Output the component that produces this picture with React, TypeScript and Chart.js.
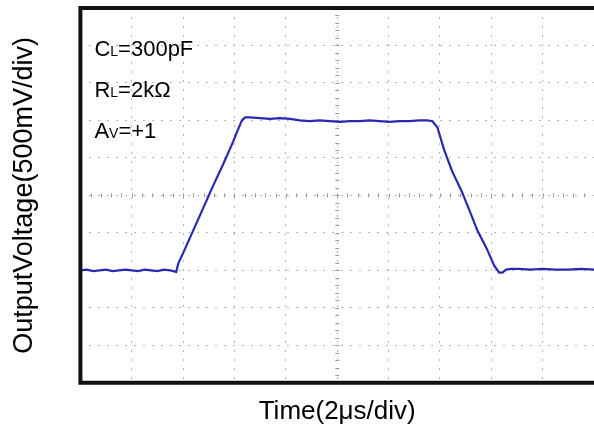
import { useEffect, useRef } from "react";
import { Chart, registerables } from "chart.js";

Chart.register(...registerables);

// Time in microseconds (2 µs/div, 10 divisions)
const timeUs = [
  0, 0.25, 0.5, 0.75, 1.0, 1.25, 1.5, 1.75, 2.0, 2.25, 2.5, 2.75, 3.0, 3.25, 3.5, 3.73,
  3.81, 4.0, 4.39, 4.78, 5.17, 5.55, 5.94, 6.14, 6.29, 6.41,
  6.6, 6.99, 7.38, 7.77, 8.16, 8.54, 8.93, 9.32, 9.71, 10.1, 10.49, 10.87, 11.26, 11.65, 12.04, 12.43, 12.82, 13.2, 13.51, 13.71,
  13.9, 14.17, 14.49, 14.83, 15.15, 15.46, 15.81, 16.12, 16.31, 16.43, 16.58, 16.78, 17.09,
  17.5, 18.0, 18.5, 19.0, 19.5, 20.0,
];

// Output voltage in volts (500 mV/div)
const outputV = [
  -1.0, -0.99, -1.01, -1.0, -0.99, -1.01, -1.0, -0.99, -1.0, -1.01, -0.99, -1.0, -1.01, -0.99, -1.0, -1.02,
  -0.91, -0.77, -0.47, -0.17, 0.13, 0.41, 0.71, 0.88, 1.0, 1.04,
  1.04, 1.03, 1.02, 1.03, 1.02, 1.0, 0.99, 1.0, 0.99, 0.98, 0.99, 0.99, 1.0, 0.99, 0.98, 0.99, 0.99, 1.0, 1.0, 0.99,
  0.91, 0.6, 0.31, 0.07, -0.2, -0.47, -0.7, -0.94, -1.03, -1.03, -0.99, -0.98, -0.98,
  -0.99, -0.98, -0.99, -0.99, -0.98, -0.99,
];

const xTitle = "Time(2μs/div)";
const yTitle = "OutputVoltage(500mV/div)";

// [main letter, subscript, rest]
const conditionLabels = [
  ["C", "L", "=300pF"],
  ["R", "L", "=2kΩ"],
  ["A", "V", "=+1"],
];

const FONT = "'Liberation Sans', Arial, Helvetica, sans-serif";

const scopePlugin = {
  id: "scopeDecor",
  beforeDatasetsDraw(chart: any) {
    const { ctx, scales } = chart;
    const xs = scales.x;
    const ys = scales.y;
    const cx = xs.getPixelForValue(10);
    const cy = ys.getPixelForValue(0);
    ctx.save();
    ctx.strokeStyle = "#9a9a9a";
    ctx.lineWidth = 1;
    ctx.beginPath();
    for (let t = 0; t <= 20.001; t += 0.4) {
      const px = Math.round(xs.getPixelForValue(t)) + 0.5;
      ctx.moveTo(px, cy - 2);
      ctx.lineTo(px, cy + 2);
    }
    for (let v = -2.5; v <= 2.5001; v += 0.1) {
      const py = Math.round(ys.getPixelForValue(v)) + 0.5;
      ctx.moveTo(cx - 2, py);
      ctx.lineTo(cx + 2, py);
    }
    ctx.stroke();
    ctx.restore();
  },
  afterDraw(chart: any) {
    const { ctx, chartArea } = chart;
    const { left, top, right, bottom } = chartArea;
    ctx.save();
    // frame
    ctx.strokeStyle = "#111";
    ctx.lineWidth = 4;
    ctx.beginPath();
    ctx.moveTo(right + 2, top);
    ctx.lineTo(left, top);
    ctx.lineTo(left, bottom);
    ctx.lineTo(right + 2, bottom);
    ctx.stroke();

    // test condition labels
    ctx.fillStyle = "#000";
    ctx.textBaseline = "alphabetic";
    ctx.textAlign = "left";
    conditionLabels.forEach((parts, i) => {
      let x = left + 14;
      const y = top + 48 + i * 41;
      ctx.font = `22px ${FONT}`;
      ctx.fillText(parts[0], x, y);
      x += ctx.measureText(parts[0]).width;
      ctx.font = `14px ${FONT}`;
      ctx.fillText(parts[1], x, y);
      x += ctx.measureText(parts[1]).width;
      ctx.font = `22px ${FONT}`;
      ctx.fillText(parts[2], x, y);
    });
    ctx.restore();
  },
};

export default function App() {
  const canvasRef = useRef<HTMLCanvasElement | null>(null);

  useEffect(() => {
    if (!canvasRef.current) return;
    const data = timeUs.map((t, i) => ({ x: t, y: outputV[i] }));
    const chart = new Chart(canvasRef.current, {
      type: "line",
      data: {
        datasets: [
          {
            data,
            borderColor: "#2828b0",
            borderWidth: 2.2,
            pointRadius: 0,
            tension: 0,
            fill: false,
          },
        ],
      },
      options: {
        animation: false,
        responsive: true,
        maintainAspectRatio: false,
        layout: { padding: { left: 0, top: 8, right: 0, bottom: 0 } },
        plugins: {
          legend: { display: false },
          tooltip: { enabled: false },
        },
        scales: {
          x: {
            type: "linear",
            min: 0,
            max: 20,
            ticks: { display: false, stepSize: 2 },
            grid: { color: "#b4b4b4", lineWidth: 1, drawTicks: false },
            border: { display: false, dash: [2, 7] },
            title: {
              display: true,
              text: xTitle,
              color: "#000",
              font: { family: FONT, size: 26 },
              padding: { top: 13, bottom: 4 },
            },
          },
          y: {
            type: "linear",
            min: -2.5,
            max: 2.5,
            ticks: { display: false, stepSize: 0.5 },
            grid: { color: "#b4b4b4", lineWidth: 1, drawTicks: false },
            border: { display: false, dash: [2, 7] },
            title: {
              display: true,
              text: yTitle,
              color: "#000",
              font: { family: FONT, size: 27 },
              padding: { top: 8, bottom: 40 },
            },
          },
        },
      },
      plugins: [scopePlugin],
    });
    return () => chart.destroy();
  }, []);

  return (
    <div
      style={{
        position: "absolute",
        left: 0,
        top: 0,
        width: 594,
        height: 431,
        background: "#fff",
      }}
    >
      <canvas ref={canvasRef} />
    </div>
  );
}
